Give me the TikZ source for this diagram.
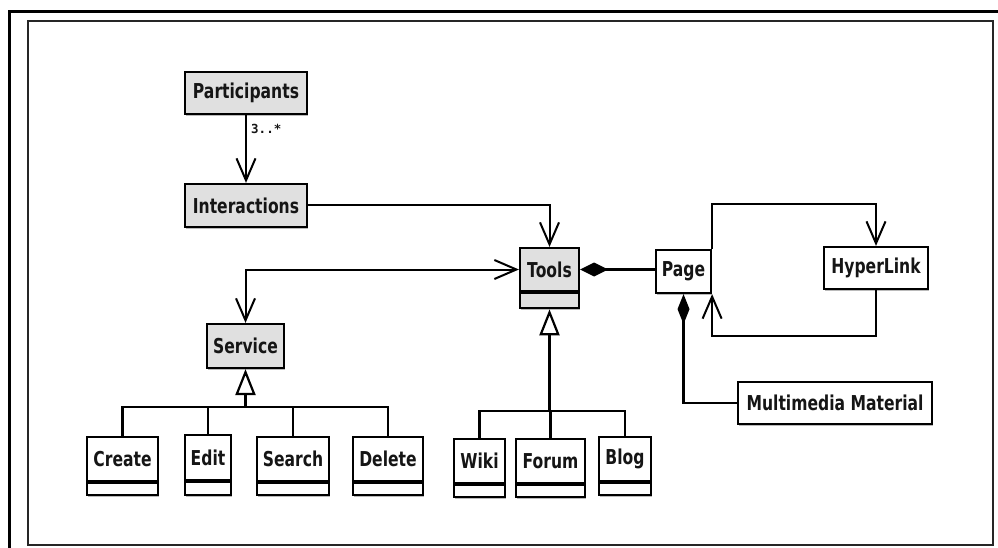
\documentclass[tikz,border=0pt]{standalone}
\usepackage{fontspec}
\newfontfamily\clsfont{DejaVu Sans}[FakeStretch=0.76]
\newfontfamily\multfont{DejaVu Sans Mono}
\usetikzlibrary{arrows.meta,shadows}
\definecolor{clsgray}{HTML}{E0E0E0}
\definecolor{txt}{HTML}{151515}
\begin{document}
\begin{tikzpicture}[x=1pt,y=-1pt,
  box/.style={draw=black, line width=2.2pt, inner sep=0pt, text=txt,
    font=\clsfont\bfseries\fontsize{20.5}{24}\selectfont,
    drop shadow={shadow xshift=1.2pt, shadow yshift=-1.8pt, fill=black!45, opacity=0.6}},
  gbox/.style={box, fill=clsgray},
  wbox/.style={box, fill=white},
  comp/.style={draw=black, line width=2.2pt, inner sep=0pt, anchor=north,
    drop shadow={shadow xshift=1.2pt, shadow yshift=-1.8pt, fill=black!45, opacity=0.6}},
  assoc/.style={draw, line width=2pt, -{Straight Barb[length=22pt,width=19pt]}},
  biassoc/.style={draw, line width=2pt, {Straight Barb[length=22pt,width=19pt]}-{Straight Barb[length=22pt,width=19pt]}},
  compo/.style={draw, line width=2.4pt, {Diamond[length=28pt,width=14pt]}-},
  genl/.style={draw, line width=2.2pt, -{Triangle[open, length=26pt, width=20pt, fill=white]}},
  bus/.style={draw, line width=2.8pt},
  drop/.style={draw, line width=2.4pt}
]
\useasboundingbox (0,0) rectangle (998,548);
\fill[white] (0,0) rectangle (998,548);
% frame
\draw[line width=3pt] (9,12) rectangle (1005,560);
\draw[line width=2pt, black!85] (28,21) rectangle (993,545);

% classes
\node[gbox, minimum width=122pt, minimum height=42pt] (part) at (246,93) {Participants};
\node[gbox, minimum width=122pt, minimum height=43pt] (inter) at (246,205.5) {Interactions};
\node[gbox, minimum width=77pt, minimum height=44pt] (service) at (245.5,346) {Service};
\node[gbox, minimum width=59pt, minimum height=43pt] (tools) at (549.5,269.5) {Tools};
\node[comp, fill=clsgray, minimum width=59pt, minimum height=15pt] (toolsc) at (tools.south) {};
\node[wbox, minimum width=55pt, minimum height=43pt] (page) at (683.5,271.5) {Page};
\node[wbox, minimum width=104pt, minimum height=42pt] (hyper) at (876,268) {HyperLink};
\node[wbox, minimum width=194pt, minimum height=42pt] (mm) at (835,403) {Multimedia Material};

\node[wbox, minimum width=71pt, minimum height=44pt] (create) at (122.5,459) {Create};
\node[comp, fill=white, minimum width=71pt, minimum height=12pt] (createc) at (create.south) {};
\node[wbox, minimum width=46pt, minimum height=45pt] (edit) at (208,457.5) {Edit};
\node[comp, fill=white, minimum width=46pt, minimum height=13pt] (editc) at (edit.south) {};
\node[wbox, minimum width=72pt, minimum height=44pt] (search) at (293,459) {Search};
\node[comp, fill=white, minimum width=72pt, minimum height=12pt] (searchc) at (search.south) {};
\node[wbox, minimum width=70pt, minimum height=44pt] (delete) at (388,459) {Delete};
\node[comp, fill=white, minimum width=70pt, minimum height=12pt] (deletec) at (delete.south) {};

\node[wbox, minimum width=51pt, minimum height=44pt] (wiki) at (479.5,461) {Wiki};
\node[comp, fill=white, minimum width=51pt, minimum height=12pt] (wikic) at (wiki.south) {};
\node[wbox, minimum width=69pt, minimum height=44pt] (forum) at (550.5,461) {Forum};
\node[comp, fill=white, minimum width=69pt, minimum height=12pt] (forumc) at (forum.south) {};
\node[wbox, minimum width=52pt, minimum height=44pt] (blog) at (625,459) {Blog};
\node[comp, fill=white, minimum width=52pt, minimum height=12pt] (blogc) at (blog.south) {};

% associations
\draw[assoc] (part.south) -- (inter.north);
\node[font=\multfont\bfseries\fontsize{12.5}{15}\selectfont, text=txt, anchor=west, inner sep=0pt] (mult) at (251,129) {3..*};
\draw[assoc] (inter.east) -| (tools.north);
\draw[biassoc] (service.north) |- (tools.west);
\draw[compo] (tools.east) -- (tools.east -| page.west);
\draw[assoc] (page.north east) -- ([yshift=45pt]page.north east) -| (hyper.north);
\draw[assoc] (hyper.south) -- ([yshift=-46pt]hyper.south) -| (page.south east);
\draw[draw, line width=2.4pt, {Diamond[length=30pt,width=12pt]}-] (page.south) |- (mm.west);

% generalizations: Service
\coordinate (sbus) at (245.5,407);
\draw[bus] (create.north) |- (sbus) -| (delete.north);
\draw[drop] (edit.north) -- (edit.north |- sbus);
\draw[drop] (search.north) -- (search.north |- sbus);
\draw[genl] (sbus) -- (service.south);

% generalizations: Tools
\coordinate (tbus) at (549.5,411);
\draw[bus] (wiki.north) |- (tbus) -| (blog.north);
\draw[drop] (forum.north) -- (forum.north |- tbus);
\draw[genl] (tbus) -- (toolsc.south);
\end{tikzpicture}
\end{document}
